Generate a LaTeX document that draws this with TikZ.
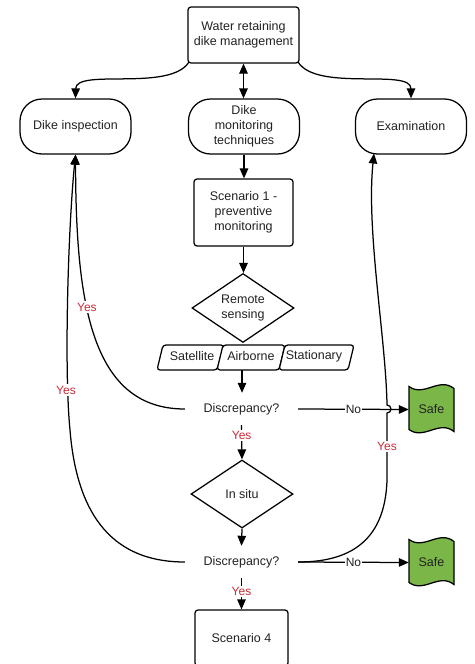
\documentclass[tikz,border=0pt]{standalone}
\usepackage{fontspec}
\setmainfont{Liberation Sans}
\usetikzlibrary{shapes.geometric,arrows.meta}
\definecolor{txt}{HTML}{222222}
\definecolor{yesred}{HTML}{C92D39}
\definecolor{safegreen}{HTML}{7AB648}
\begin{document}
\begin{tikzpicture}[x=1pt,y=-1pt,
  font=\fontsize{12.5}{15}\selectfont,
  every node/.style={text=txt, align=center},
  line/.style={line width=1.25pt, draw=black},
  arr/.style={line, -{Triangle[length=10pt,width=8.5pt]}},
  dblarr/.style={line, {Triangle[length=10pt,width=8.5pt]}-{Triangle[length=10pt,width=8.5pt]}},
  boxnode/.style={draw, line width=1.25pt, rounded corners=3pt, fill=white, inner sep=2pt},
  pill/.style={draw, line width=1.25pt, rounded corners=22pt, minimum width=111pt, minimum height=55pt, inner sep=2pt},
  dia/.style={draw, diamond, line width=1.25pt, inner sep=0pt, minimum width=102pt, minimum height=69pt, aspect=1.45},
  quest/.style={minimum width=113pt, minimum height=32pt, inner sep=0pt},
  para/.style={line width=1.25pt, draw=black, fill=white, rounded corners=3pt},
  yeslbl/.style={text=yesred, fill=white, inner sep=1.5pt, font=\fontsize{12}{14}\selectfont},
  nolbl/.style={fill=white, inner sep=0.8pt, font=\fontsize{12}{14}\selectfont},
  safenode/.style={minimum width=45pt, minimum height=45pt, inner sep=0pt},
  safeshape/.pic={
    \path[fill=safegreen, draw=black, line width=1.25pt]
      (-22.5,-23) .. controls (-7.5,-12) and (7.5,-33) .. (22.5,-21)
      -- (22.5,22) .. controls (7.5,10) and (-7.5,31) .. (-22.5,20) -- cycle;
  }
]
\useasboundingbox (0,0) rectangle (474,664);
\clip (0,0) rectangle (474,664);

% main nodes
\node[boxnode, minimum width=111pt, minimum height=56pt] (top) at (243.5,35) {Water retaining\\dike management};
\node[pill] (insp) at (75.5,126.5) {Dike inspection};
\node[pill] (mon) at (244,126.5) {Dike\\monitoring\\techniques};
\node[pill] (exam) at (411,126.5) {Examination};
\node[boxnode, minimum width=99pt, minimum height=67pt] (s1) at (243.5,212.5) {Scenario 1 -\\preventive\\monitoring};
\node[dia] (rs) at (243,308) {Remote\\sensing};

% remote sensing platforms
\draw[para] (163,345) -- (224,345) -- (217,370) -- (157,370) -- cycle;
\draw[para] (223,345) -- (285,345) -- (279,370) -- (217,370) -- cycle;
\draw[para] (285,345) -- (354,345) -- (348,370) -- (279,370) -- cycle;
\node (sat) at (192,356.5) {Satellite};
\node (air) at (251,356.5) {Airborne};
\node (sta) at (314,356.5) {Stationary};
\coordinate (rowb) at (242,370);

\node[quest] (d1) at (241.5,409) {Discrepancy?};
\node[dia, minimum height=68pt] (is) at (242,494) {In situ};
\node[quest] (d2) at (241.5,562) {Discrepancy?};
\node[boxnode, minimum width=93pt, minimum height=56pt] (s4) at (241.5,638) {Scenario 4};

% safe flags
\pic at (431.5,409.5) {safeshape};
\node[safenode] (safe1) at (431.5,409.5) {Safe};
\pic at (431.5,562.5) {safeshape};
\node[safenode] (safe2) at (431.5,562.5) {Safe};

\coordinate (exin) at (374,153.5);

% connectors from the top
\draw[arr] ([xshift=1.5pt,yshift=1.5pt]top.south west) .. controls (170,92) and (76,68) .. (insp.north);
\draw[arr] ([xshift=-1.5pt,yshift=1.5pt]top.south east) .. controls (317,92) and (411,68) .. (exam.north);
\draw[dblarr] (top.south) -- (top.south |- mon.north);
\draw[arr] (mon.south) -- (mon.south |- s1.north);
\draw[arr] (s1.south) -- (s1.south |- rs.north);
\draw[arr] (rowb) -- (rowb |- d1.north);

% yes branches downward
\draw[arr] (d1.south) -- node[yeslbl, pos=0.3] {Yes} (is.north);
\draw[arr] (is.south) -- (d2.north);
\draw[arr] (d2.south) -- node[yeslbl, pos=0.42] {Yes} (s4.north);

% no branches to safe
\draw[arr] (d1.east) -- node[nolbl, pos=0.5] {No} (safe1.west);
\draw[arr] (d2.east) -- node[nolbl, pos=0.5] {No} (safe2.west);

% yes back to dike inspection
\draw[arr] (d1.west) .. controls (90,409) and (76,300) .. node[yeslbl, pos=0.6] {Yes} (insp.south);
\draw[arr] (d2.west) .. controls (125,562) and (78,530) .. (70,430)
   .. controls (64,370) and (68,230) .. (insp.south);
\node[yeslbl] (yesl2) at (66,390) {Yes};

% yes to examination, with a line hop
\draw[arr] (d2.east) .. controls (345,562) and (385,545) .. (387,480)
   -- node[yeslbl, pos=0.5] {Yes} (387,413)
   arc[start angle=90, end angle=-90, radius=4]
   .. controls (386,340) and (366,230) .. (exin);
\end{tikzpicture}
\end{document}
